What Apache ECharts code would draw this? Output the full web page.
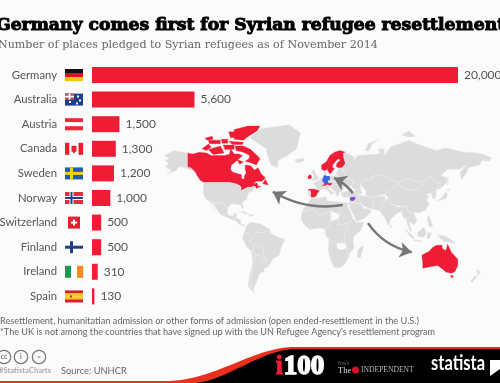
<!DOCTYPE html>
<html><head><meta charset="utf-8">
<style>html,body{margin:0;padding:0;background:#fbfbfb}#c{width:500px;height:383px}</style>
<script src="https://cdn.jsdelivr.net/npm/echarts@6/dist/echarts.min.js"></script>
</head><body><div id="c"></div>
<script>
const categories = ['Germany','Australia','Austria','Canada','Sweden','Norway','Switzerland','Finland','Ireland','Spain'];
const places = [20000,5600,1500,1300,1200,1000,500,500,310,130];
const pledgingCountries = ['Australia','Tasmania','Austria','Canada','Baffin','Victoria','Banks','Ellesmere','Devon','Axel','Melville','Southampton','Newfoundland','Somerset','PrincePatrick','Bathurst','Sweden','Norway','Switzerland','Finland','Ireland','Spain'];
const titleText = 'Germany comes first for Syrian refugee resettlement';
const subtitleText = 'Number of places pledged to Syrian refugees as of November 2014';
const noteLines = ['Resettlement, humanitatian admission or other forms of admission (open ended-resettlement in the U.S.)',
  "*The UK is not among the countries that have signed up with the UN Refugee Agency's resettlement program"];
const arrowRoutes = [
  {coords:[[28,29],[-48,41.2]], curveness:0.18},
  {coords:[[39,40],[18.5,52.6]], curveness:-0.12},
  {coords:[[55.4,11],[103,-19]], curveness:-0.2}
];
const land = {
 Canada:[[-141,69.6],[-135,69],[-128,70],[-120,69.5],[-115,68],[-108,68],[-100,68],[-95,69],[-94,72],[-90,69],[-85,69],[-81,68],[-87,65],[-93,62],[-94,59],[-92,57],[-85,55.5],[-82,55],[-82,52],[-79,51.5],[-79,54],[-77,56.5],[-78,59],[-78,62],[-72,61.5],[-68,58.5],[-64,60],[-61,56],[-56,52.5],[-60,50],[-66,50],[-69,48],[-65,48.5],[-64,46],[-61,46],[-66,44],[-67,45.5],[-70,46],[-71,45],[-75,45],[-79,43.5],[-83,42],[-82.5,45],[-84,46.5],[-89,48],[-95,49],[-123,49],[-127,51],[-130,54],[-133,57],[-137,59],[-141,60]],
 Baffin:[[-80,73.5],[-72,71.5],[-64,67.5],[-62,66],[-66,62],[-72,63.5],[-78,64.5],[-74,66],[-73,68],[-80,70],[-88,71],[-89,73.5]],
 Victoria:[[-118,71.5],[-105,73.5],[-101,69.5],[-113,68.7]],
 Banks:[[-125,72],[-118,74.5],[-115,73],[-120,71]],
 Ellesmere:[[-90,77],[-80,76.5],[-76,78],[-65,81],[-62,83],[-75,83],[-90,81.5]],
 Devon:[[-96,76],[-80,75.5],[-81,74.3],[-92,74.3]],
 Axel:[[-96,80.5],[-87,80.5],[-87,78],[-94,77.7]],
 Melville:[[-118,76.5],[-105,76.5],[-105,74.7],[-117,74.7]],
 Southampton:[[-87,65.5],[-80,64],[-84,62.5]],
 Newfoundland:[[-59,48],[-56,51.5],[-53,47]],
 Somerset:[[-102,74],[-90,74],[-90,71.7],[-100,71.5]],
 PrincePatrick:[[-122,77.5],[-114,78.5],[-113,77],[-119,76.5]],
 Bathurst:[[-104,77],[-97,77],[-97,75],[-103,75]],
 Alaska:[[-141,69.6],[-156,71],[-166,68],[-161,66],[-166,65],[-161,63],[-165,61],[-158,58],[-164,55],[-153,58],[-150,61],[-144,60],[-141,60],[-137,59],[-131,55],[-133,57.5],[-137,60],[-141,60.5]],
 USA:[[-123,49],[-95,49],[-89,48],[-84,46.5],[-82.5,45],[-83,42],[-79,43.5],[-75,45],[-71,45],[-70,46],[-67,45.5],[-67,44.5],[-70,43.5],[-70,41.5],[-74,40.5],[-76,37],[-76,35],[-81,31.5],[-80,27],[-81,25],[-83,29],[-89,30],[-94,29.5],[-97,26],[-101,29.5],[-106,31.7],[-111,31.3],[-117,32.5],[-121,35],[-124,40]],
 Mexico:[[-117,32.5],[-111,31.3],[-106,31.7],[-101,29.5],[-97,26],[-97.5,21],[-95,18.5],[-91,18.5],[-90,21],[-87,21],[-88,16],[-92,14.5],[-96,16],[-105,20],[-109,25],[-113,31],[-115,30],[-110,23],[-114,28]],
 CentralAmerica:[[-92,14.5],[-88,16],[-83,15],[-83,10],[-78,9],[-80,7.5],[-85,10],[-88,13]],
 Cuba:[[-85,22],[-80,23],[-74,20],[-78,20],[-82,22]],
 Hispaniola:[[-74,19.8],[-69,19.5],[-68.5,18.3],[-74,18]],
 NorthSA:[[-77,8],[-72,12],[-62,10.5],[-52,5],[-51,3.5],[-60,1],[-67,1],[-70,-4],[-75,0],[-79,1.5]],
 Peru:[[-79,1.5],[-75,0],[-70,-4],[-74,-8],[-69,-11],[-69,-17],[-71,-18],[-76,-14],[-81,-5]],
 Brazil:[[-60,1],[-51,3.5],[-50,0],[-44,-2.5],[-35,-6],[-39,-15],[-41,-22],[-48,-26],[-53.5,-33.7],[-57,-30],[-54.5,-26],[-58,-22],[-58,-17],[-65,-11],[-69,-11],[-74,-8],[-70,-4],[-67,1]],
 Bolivia:[[-69,-11],[-65,-11],[-58,-17],[-58,-22],[-54.5,-26],[-58,-27],[-62,-22],[-67,-22.5],[-69,-18]],
 Chile:[[-69,-17],[-71,-18],[-70,-30],[-73,-40],[-75,-50],[-68,-55.5],[-69,-52],[-72,-50],[-71,-40],[-70,-30],[-67,-22.5],[-69,-18]],
 Argentina:[[-67,-22.5],[-62,-22],[-58,-27],[-54.5,-26],[-57,-30],[-53.5,-33.7],[-58,-35],[-57,-38],[-62,-39],[-65,-45],[-69,-52],[-72,-50],[-71,-40],[-70,-30]],
 Greenland:[[-73,78],[-60,82],[-30,83.5],[-18,80],[-22,72],[-32,68],[-42,65],[-43,60],[-50,62],[-54,68],[-55,72],[-68,76]],
 Iceland:[[-24,65.5],[-15,66.3],[-13.5,65],[-19,63.4],[-23,64]],
 Norway:[[5,59],[5,62],[10,64],[14,68],[19,70],[25,71],[31,70],[29,69.5],[25,69],[20,69],[17,68],[14,65],[12,63],[12,60],[11,59],[8,58]],
 Sweden:[[11,59],[12,60],[12,63],[14,65],[17,68],[20,69],[24,68],[24,66],[22,65.5],[17,62],[17,60],[19,59.5],[16,57],[14,55.5],[13,55.5]],
 Finland:[[20,69],[25,69],[29,69.5],[29,67],[31,63],[28,60.5],[23,60],[21,61],[21.5,63],[25,65],[24,66],[24,68]],
 Denmark:[[8,55],[8.5,57],[10.5,57],[10,55]],
 UK:[[-5,50],[1,51.3],[1.5,53],[-2,56],[-2,57.5],[-4,58.6],[-6,57],[-3,54],[-5,52]],
 Ireland:[[-10,52],[-9.5,54],[-7.5,55.3],[-6,54],[-6.3,52.2]],
 Spain:[[-9,43.5],[-2,43.4],[3,42.3],[0,39.5],[-0.5,38],[-2,36.8],[-5.5,36],[-7,37.2],[-7,42],[-9,42]],
 Portugal:[[-9,42],[-7,42],[-7,37.2],[-9,37]],
 France:[[-1.5,43.4],[3,42.5],[7.5,43.7],[7,46],[8,48.8],[4,50],[2,51],[-1.5,49.5],[-4.8,48.5],[-1,46]],
 Benelux:[[2.5,51],[4,50],[6,49.5],[6.5,53.3],[4.5,52.5]],
 Germany:[[6,49.5],[8,48.8],[7.6,47.6],[13,47.6],[12,50.3],[15,51],[14,54],[10,54],[8.5,55],[7,53.5],[6,51]],
 Switzerland:[[6,46.2],[7,46],[10.3,46.4],[9.5,47.5],[7.6,47.6]],
 Austria:[[9.5,47.5],[10.3,46.8],[14,46.5],[17,47.7],[17,48.8],[13.5,48.8],[13,47.6]],
 Italy:[[7,46],[7.5,43.8],[10.5,43],[12.5,41.5],[16,38],[16.5,39.5],[18.4,40],[15.5,42],[12.5,44.5],[13.7,45.7],[12,47],[10.3,46.4]],
 Poland:[[14,54],[15,51],[19,49.5],[23,49.5],[24,52],[23,54.3],[19,54.4]],
 Czechia:[[12,50.3],[15,51],[19,49.5],[22.5,49],[22,47.5],[17,46],[16.5,47.7],[17,48.8],[13.5,48.8]],
 Balkans:[[13.7,45.7],[14,46.5],[17,46],[22,47.5],[27,48],[29.5,45],[28,42],[26,41],[24,40.5],[23.5,38],[21.5,37],[19.5,41],[15,44.5]],
 Ukraine:[[23,49.5],[24,52],[23,54.3],[21,55],[22,58],[24,59.5],[28,59.5],[32,53],[40,50],[38,47],[33.5,45],[30,46],[29.5,45],[27,48],[22.5,49]],
 Russia:[[28,60.5],[31,63],[29,67],[29,69.5],[33,69.5],[41,67],[40,65],[44,68],[54,68.5],[68,69],[67,72],[73,72],[73,68],[80,73],[100,76.5],[112,74],[130,71],[140,72.5],[160,70],[170,70],[180,69],[190,66.5],[187,64.5],[179,65],[177,62],[164,60],[163,57],[157,51],[155.5,57],[163,62],[155,59],[142,59],[135,54.5],[141,53],[140,48],[132,43],[131,45],[135,48],[130,49],[125,53],[120,53],[117,49.7],[108,50],[98,52],[88,49.5],[80,51],[70,55],[60,54],[61,51],[50,51],[47,48],[48,42],[40,43.5],[37,46],[38,47],[40,50],[32,53],[28,59.5]],
 NovayaZemlya:[[52,71],[56,75],[68,77],[60,74.5],[56,70.5]],
 Severnaya:[[92,79],[100,81],[107,78.5],[100,78]],
 Sakhalin:[[142,54],[143,50],[142,46],[141.5,50]],
 Honshu:[[130,33],[135,35.5],[140,41],[142,39],[140,35],[135,33.5]],
 Hokkaido:[[140,43],[145,44],[143,42]],
 Kazakhstan:[[47,48],[50,51],[61,51],[60,54],[70,55],[80,51],[88,49.5],[80,42.5],[74,39],[66,37.5],[61,36],[53.5,37],[53,42],[50,45]],
 China:[[74,39],[80,42.5],[88,49.5],[92,45],[105,42],[112,45],[117,49.7],[120,53],[125,53],[130,49],[135,48],[131,45],[130,42.5],[124,40],[118,39],[122,37],[119,34],[122,30],[118,24],[110,21],[106,22],[102,21.5],[98,24],[98,28],[88,28],[80,30.5],[78,35]],
 Mongolia:[[88,49.5],[98,52],[108,50],[117,49.7],[112,45],[105,42],[92,45]],
 Korea:[[124,40],[130,42.5],[129,36],[126,34.5]],
 India:[[68,23.5],[71,28],[74,34],[78,35],[80,30.5],[88,27],[96,28],[92,23],[89,22],[86,20],[80,15],[78,8],[73,17]],
 Pakistan:[[61,25],[68,23.5],[71,28],[74,34],[74,37],[66,37.5],[61,36]],
 Iran:[[44.5,39],[48,38],[53.5,37],[61,36],[61,25],[57,26],[52,27.5],[48,30],[46,34]],
 Saudi:[[34.5,28],[38,31.5],[42,31],[48,30],[51,25],[56,26],[59.5,22.5],[52,16],[43,12.7],[39,21]],
 Iraq:[[42,37],[44.5,37.2],[46,34],[48,30],[42,31],[39,32.5],[41,34.5]],
 Syria:[[36,33],[36,36.5],[42,37],[41,34.5],[39,32.5]],
 Turkey:[[26,40],[29,41.2],[35,42],[41,41],[44.5,39],[44.5,37.2],[36,36.5],[30,36.2],[27,37]],
 Caucasus:[[40,43.5],[48,42],[49,40],[44.5,39],[41,41]],
 Jordan:[[34.5,31],[36,33],[39,32.5],[38,31.5],[35,29]],
 Indochina:[[92,23],[96,28],[98,28],[98,24],[102,21.5],[106,22],[106,19],[109,13],[105,9],[100,13],[103,2],[101,3],[98,10],[97,16],[94,16]],
 Sumatra:[[95,5.5],[104,-2],[106,-6],[102,-4]],
 Java:[[105,-6.5],[114,-7],[114,-8.5],[106,-7.7]],
 Borneo:[[109,1],[116,7],[119,1],[116,-4],[110,-3]],
 Sulawesi:[[120,1],[125,1],[122,-5],[119.5,-5]],
 Philippines:[[120,18],[122,18],[124,13],[126,7],[122,7],[120,14]],
 NewGuinea:[[131,-1],[141,-3],[148,-8],[150,-10.5],[143,-9],[138,-8],[133,-4]],
 SriLanka:[[80,9.5],[82,7],[80.5,6]],
 Maghreb:[[-6,36],[-2,35],[10,37],[11,33],[25,32],[25,20],[15,23],[4,19],[-5,25],[-17,21],[-13,27.5],[-9.5,31]],
 Sudan:[[25,32],[34,31],[33,28],[37,21],[39,15.5],[35,11],[24,9],[23,15],[25,20]],
 WestAfrica:[[-17,21],[-5,25],[4,19],[15,23],[15,13],[14,8],[9,4.5],[4,6],[-8,4.5],[-13,8.5],[-17,14]],
 CentralAfrica:[[9,4.5],[14,8],[15,13],[23,15],[24,9],[35,11],[30,-1],[30,-8],[22,-11],[13,-6],[9,-1]],
 EastAfrica:[[35,11],[39,15.5],[43,12],[51,12],[48,4],[40,-3],[39,-7],[40.5,-15],[35,-20],[35,-24],[33,-26],[33,-15],[30,-8],[30,-1]],
 SouthAfrica:[[13,-6],[22,-11],[30,-8],[33,-15],[33,-26],[32,-29],[26,-34],[18.5,-34],[15,-27],[12,-17]],
 Gap:[[22,-10],[31,-10.5],[32,-15],[27,-16.5],[22,-15]],
 Madagascar:[[49.5,-12],[50,-16],[47,-25],[44,-24],[44,-17]],
 Australia:[[114,-22],[122,-18],[126,-14],[130,-12],[136,-12],[136,-15],[140,-17.5],[142,-11],[146,-19],[153,-26],[153,-32],[150,-37.5],[146,-39],[140,-38],[136,-35],[131,-32],[124,-33],[115,-34.5],[115,-30]],
 Tasmania:[[145,-41],[148,-41],[147,-43.5],[146,-43.5]],
 NZNorth:[[173,-35],[178,-38],[175,-41],[174,-38]],
 NZSouth:[[172,-41],[174,-42],[169,-47],[166.5,-46]]
};
const flags = {
 Germany:{h:['#111','#e01020','#f8c010']},
 Australia:{bg:'#1c3f94',marks:[[0,0,9,6,'#c8505a'],[3.6,0,1.8,6,'#fff'],[0,2.2,9,1.6,'#fff'],[4,7.5,2,2,'#fff'],[12,2,2,2,'#fff'],[14,6,2,2,'#fff'],[11,9,2,2,'#fff']]},
 Austria:{h:['#ed2939','#fff','#ed2939']},
 Canada:{v:['#e8202f','#fff','#fff','#e8202f'],marks:[[6.5,3,5,6,'#e8202f'],[8.2,8,1.6,2.5,'#e8202f']]},
 Sweden:{bg:'#1f5fa8',marks:[[5,0,3,12,'#f8cc10'],[0,4.5,18,3,'#f8cc10']]},
 Norway:{bg:'#e0303c',marks:[[4.5,0,4,12,'#fff'],[0,4,18,4,'#fff'],[5.5,0,2,12,'#24408e'],[0,5,18,2,'#24408e']]},
 Switzerland:{square:'#e8202f',marks:[[8,3,2,6,'#fff'],[6,5,6,2,'#fff']]},
 Finland:{bg:'#fff',marks:[[5,0,3,12,'#1f3f86'],[0,4.5,18,3,'#1f3f86']]},
 Ireland:{v:['#189a50','#fff','#f58a20']},
 Spain:{h:['#d22030','#f8c820','#f8c820','#d22030'],marks:[[5,5,2,2,'#b04030']]}
};
const RED='#ee1c34', MAPX=317, MAPY=233.7, SX=0.92, SY=0.96;
function miller(lat){const p=lat*Math.PI/180;return 1.25*Math.log(Math.tan(Math.PI/4+0.4*p))*180/Math.PI;}
function imiller(m){const y=m*Math.PI/180;return 2.5*(Math.atan(Math.exp(0.8*y))-Math.PI/4)*180/Math.PI;}
const projection={
  project:p=>[MAPX+SX*p[0],MAPY-SY*miller(p[1])],
  unproject:p=>[(p[0]-MAPX)/SX,imiller((MAPY-p[1])/SY)]
};
const geoJson={type:'FeatureCollection',features:Object.keys(land).map(n=>({type:'Feature',properties:{name:n},
  geometry:{type:'Polygon',coordinates:[land[n].concat([land[n][0]])]}}))};
echarts.registerMap('world',geoJson);
const regions=[...pledgingCountries.map(n=>({name:n,itemStyle:{areaColor:RED,borderColor:RED,borderWidth:0.3}})),
 {name:'Germany',itemStyle:{areaColor:'#3f63e0',borderColor:'#3f63e0',borderWidth:0.3}},
 {name:'Syria',itemStyle:{areaColor:'#8a3fd8',borderColor:'#8a3fd8',borderWidth:0.3}},
 {name:'Gap',itemStyle:{areaColor:'#fbfbfb',borderColor:'#fbfbfb',borderWidth:0.3}}];
function bandEdge(x0,y0,x1,y1,c0x,c0y,c1x,c1y){
  const pts=[];
  for(let k=0;k<=24;k++){const t=k/24,u=1-t;
    pts.push([u*u*u*x0+3*u*u*t*c0x+3*u*t*t*c1x+t*t*t*x1,u*u*u*y0+3*u*u*t*c0y+3*u*t*t*c1y+t*t*t*y1]);}
  return pts;
}
const redBand=[[0,381],...bandEdge(170,381,290,347,215,379,250,350),[500,347],[500,383],[0,383]];
const blackBand=[...bandEdge(195,383,292,349,225,381,258,352),[500,349],[500,383]];
const chart=echarts.init(document.getElementById('c'),null,{renderer:'canvas'});
const FONT='Lato';
chart.setOption({
 animation:false,
 backgroundColor:'#fbfbfb',
 title:[
  {text:titleText,left:-4,top:17,padding:0,textStyle:{fontFamily:'DejaVu Serif',fontWeight:'bold',fontSize:17.2,color:'#000',textBorderColor:'#000',textBorderWidth:1}},
  {text:subtitleText,left:-2,top:40,padding:0,textStyle:{fontFamily:'DejaVu Serif',fontWeight:'normal',fontSize:11.1,color:'#666'}},
  {text:noteLines[0],left:0,top:317,padding:0,textStyle:{fontFamily:FONT,fontWeight:'normal',fontSize:9.2,color:'#666'}},
  {text:noteLines[1],left:0,top:327.5,padding:0,textStyle:{fontFamily:FONT,fontWeight:'normal',fontSize:9.1,color:'#666'}},
  {text:'Source: UNHCR',left:61,top:366,padding:0,textStyle:{fontFamily:FONT,fontWeight:'normal',fontSize:9.3,color:'#666'}},
  {text:'#StatistaCharts',left:-1,top:367,padding:0,textStyle:{fontFamily:FONT,fontWeight:'bold',fontSize:7.6,color:'#aaa'}}
 ],
 geo:{map:'world',projection,roam:false,silent:true,left:0,top:0,width:500,height:383,
  boundingCoords:[projection.unproject([0,0]),projection.unproject([500,383])],
  itemStyle:{areaColor:'#dcdcdc',borderColor:'#eaeaea',borderWidth:0.5},
  emphasis:{disabled:true},label:{show:false},regions},
 grid:{left:92,right:42,top:62.7,bottom:74.3,containLabel:false,outerBoundsMode:'none'},
 xAxis:{type:'value',min:0,max:20000,show:false},
 yAxis:{type:'category',inverse:true,data:categories,axisLine:{show:false},axisTick:{show:false},
  axisLabel:{margin:35,fontFamily:FONT,fontSize:11.3,color:'#555'}},
 series:[
  {type:'lines',coordinateSystem:'geo',polyline:false,silent:true,z:3,
   symbol:['none','arrow'],symbolSize:12,
   lineStyle:{color:'#777',width:2.5,opacity:1},
   data:arrowRoutes.map(r=>({coords:r.coords,lineStyle:{curveness:r.curveness}}))},
  {type:'bar',data:places,barWidth:16,itemStyle:{color:RED},z:4,silent:true,
   label:{show:true,position:'right',distance:6,fontFamily:FONT,fontSize:12,color:'#555',
    formatter:p=>p.value.toLocaleString('en-US')}},
  {type:'custom',coordinateSystem:'cartesian2d',silent:true,z:5,clip:false,
   data:categories.map((c,i)=>[0,i]),encode:{x:0,y:1},
   renderItem:(params,api)=>{
    const o=api.coord([0,api.value(1)]), f=flags[categories[api.value(1)]];
    const x0=o[0]-27, y0=o[1]-6, W=18, H=12, kids=[];
    const rect=(x,y,w,h,c)=>kids.push({type:'rect',shape:{x:x0+x,y:y0+y,width:w,height:h},style:{fill:c}});
    if(f.bg) rect(0,0,W,H,f.bg);
    if(f.square) rect(3,0,12,H,f.square);
    if(f.h) f.h.forEach((c,k)=>rect(0,k*H/f.h.length,W,H/f.h.length+0.1,c));
    if(f.v) f.v.forEach((c,k)=>rect(k*W/f.v.length,0,W/f.v.length+0.1,H,c));
    (f.marks||[]).forEach(m=>rect(m[0],m[1],m[2],m[3],m[4]));
    return {type:'group',children:kids};
   }}
 ],
 graphic:[
  {type:'polygon',z:20,shape:{points:redBand},style:{fill:'#e8301c'}},
  {type:'polygon',z:21,shape:{points:blackBand},style:{fill:'#000'}},
  {type:'text',z:22,left:275,top:353,style:{text:'i',font:'bold 27px "Liberation Serif"',fill:RED,stroke:RED,lineWidth:0.8}},
  {type:'text',z:22,left:283,top:353,style:{text:'100',font:'bold 27px "Liberation Serif"',fill:'#fff',stroke:'#fff',lineWidth:1.6}},
  {type:'text',z:22,left:338,top:360,style:{text:'from',font:'5.5px Lato',fill:'#666'}},
  {type:'text',z:22,left:338,top:366,style:{text:'The',font:'8.5px "Liberation Serif"',fill:'#ddd'}},
  {type:'circle',z:22,shape:{cx:355.5,cy:370,r:3.6},style:{fill:'#d8102a'}},
  {type:'text',z:22,left:361,top:366,style:{text:'INDEPENDENT',font:'7.6px "Liberation Serif"',fill:'#bbb'}},
  {type:'text',z:22,x:431,y:374,scaleY:1.3,style:{text:'statista',font:'bold 16.5px Lato',fill:'#fff',verticalAlign:'bottom'}},
  {type:'polygon',z:22,shape:{points:[[490,360],[500,360],[500,369],[490,376]]},style:{fill:'#fff'}},
  {type:'group',z:22,children:[[4,'cc'],[21,'i'],[39,'=']].map(c=>({type:'group',children:[
    {type:'circle',shape:{cx:c[0],cy:357,r:6.7},style:{fill:'none',stroke:'#777',lineWidth:1.2}},
    {type:'text',x:c[0],y:357,style:{text:c[1],font:'bold 7px Lato',fill:'#777',align:'center',verticalAlign:'middle'}}
  ]}))}
 ]
});
</script></body></html>
